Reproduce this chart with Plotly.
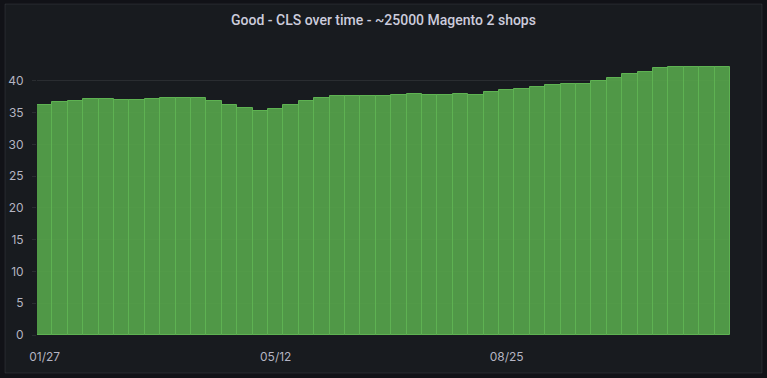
import pandas as pd
import plotly.graph_objects as go

# ---- data ----
start_date = "2021-01-27"
weeks = 45
good_cls = [
    36.2, 36.7, 36.85, 37.2, 37.2, 37.0, 37.0, 37.2, 37.3, 37.3,
    37.3, 36.85, 36.2, 35.75, 35.3, 35.6, 36.2, 36.85, 37.3, 37.6,
    37.6, 37.6, 37.6, 37.8, 37.95, 37.8, 37.8, 37.95, 37.8, 38.3,
    38.6, 38.75, 39.05, 39.4, 39.5, 39.5, 40.0, 40.5, 41.1, 41.4,
    42.05, 42.2, 42.2, 42.2, 42.2,
]
x_tick_dates = ["2021-01-27", "2021-05-12", "2021-08-25"]
x_tick_labels = ["01/27", "05/12", "08/25"]
y_ticks = [0, 5, 10, 15, 20, 25, 30, 35, 40]
title_text = "Good - CLS over time - ~25000 Magento 2 shops"

dates = pd.date_range(start_date, periods=weeks, freq="7D")

W, H = 767, 378
L, R = 37, 730
T, B = 49, 335

fig = go.Figure(
    go.Bar(
        x=dates,
        y=good_cls,
        marker=dict(
            color="rgba(86,166,75,0.9)",
            line=dict(color="rgba(94,178,82,1)", width=1),
        ),
        hoverinfo="x+y",
    )
)

pw, ph = R - L, B - T
def px(xp):
    return (xp - L) / pw
def py(yp):
    return (B - yp) / ph

fig.add_shape(
    type="rect", xref="paper", yref="paper",
    x0=px(5), x1=px(762), y0=py(373), y1=py(4),
    fillcolor="#181b1f", line=dict(color="rgba(204,204,220,0.10)", width=1),
    layer="below",
)

x_lo = dates[0] - pd.Timedelta(hours=84)
x_hi = dates[-1] + pd.Timedelta(hours=84)

fig.update_layout(
    width=W, height=H,
    margin=dict(l=L, r=W - R, t=T, b=H - B, pad=0, autoexpand=False),
    paper_bgcolor="#111217",
    plot_bgcolor="rgba(0,0,0,0)",
    bargap=0,
    showlegend=False,
    font=dict(family="Inter, Roboto, sans-serif", color="rgba(204,204,220,0.88)", size=12),
    title=dict(
        text=title_text,
        x=0.5, xref="container", xanchor="center",
        y=1 - 20 / H, yref="container", yanchor="middle",
        font=dict(family="Roboto, sans-serif", size=14, color="#ccccdc", weight=500),
    ),
    xaxis=dict(
        type="date",
        range=[x_lo, x_hi],
        tickvals=pd.to_datetime(x_tick_dates),
        ticktext=x_tick_labels,
        showgrid=False,
        zeroline=False,
        showline=False,
        ticks="",
        automargin=False,
        ticklabelstandoff=13,
        tickfont=dict(size=12, color="rgba(204,204,220,0.88)"),
    ),
    yaxis=dict(
        range=[0, 45],
        tickvals=y_ticks,
        showgrid=True,
        gridcolor="rgba(204,204,220,0.10)",
        gridwidth=1,
        zeroline=False,
        showline=False,
        ticks="outside",
        ticklen=4,
        automargin=False,
        tickcolor="rgba(204,204,220,0.10)",
        ticklabelstandoff=6,
        tickfont=dict(size=12, color="rgba(204,204,220,0.88)"),
    ),
)

fig.write_html(
    "out.html",
    config={"displayModeBar": False},
    post_script="document.body.style.margin='0';document.body.style.background='#111217';",
)
